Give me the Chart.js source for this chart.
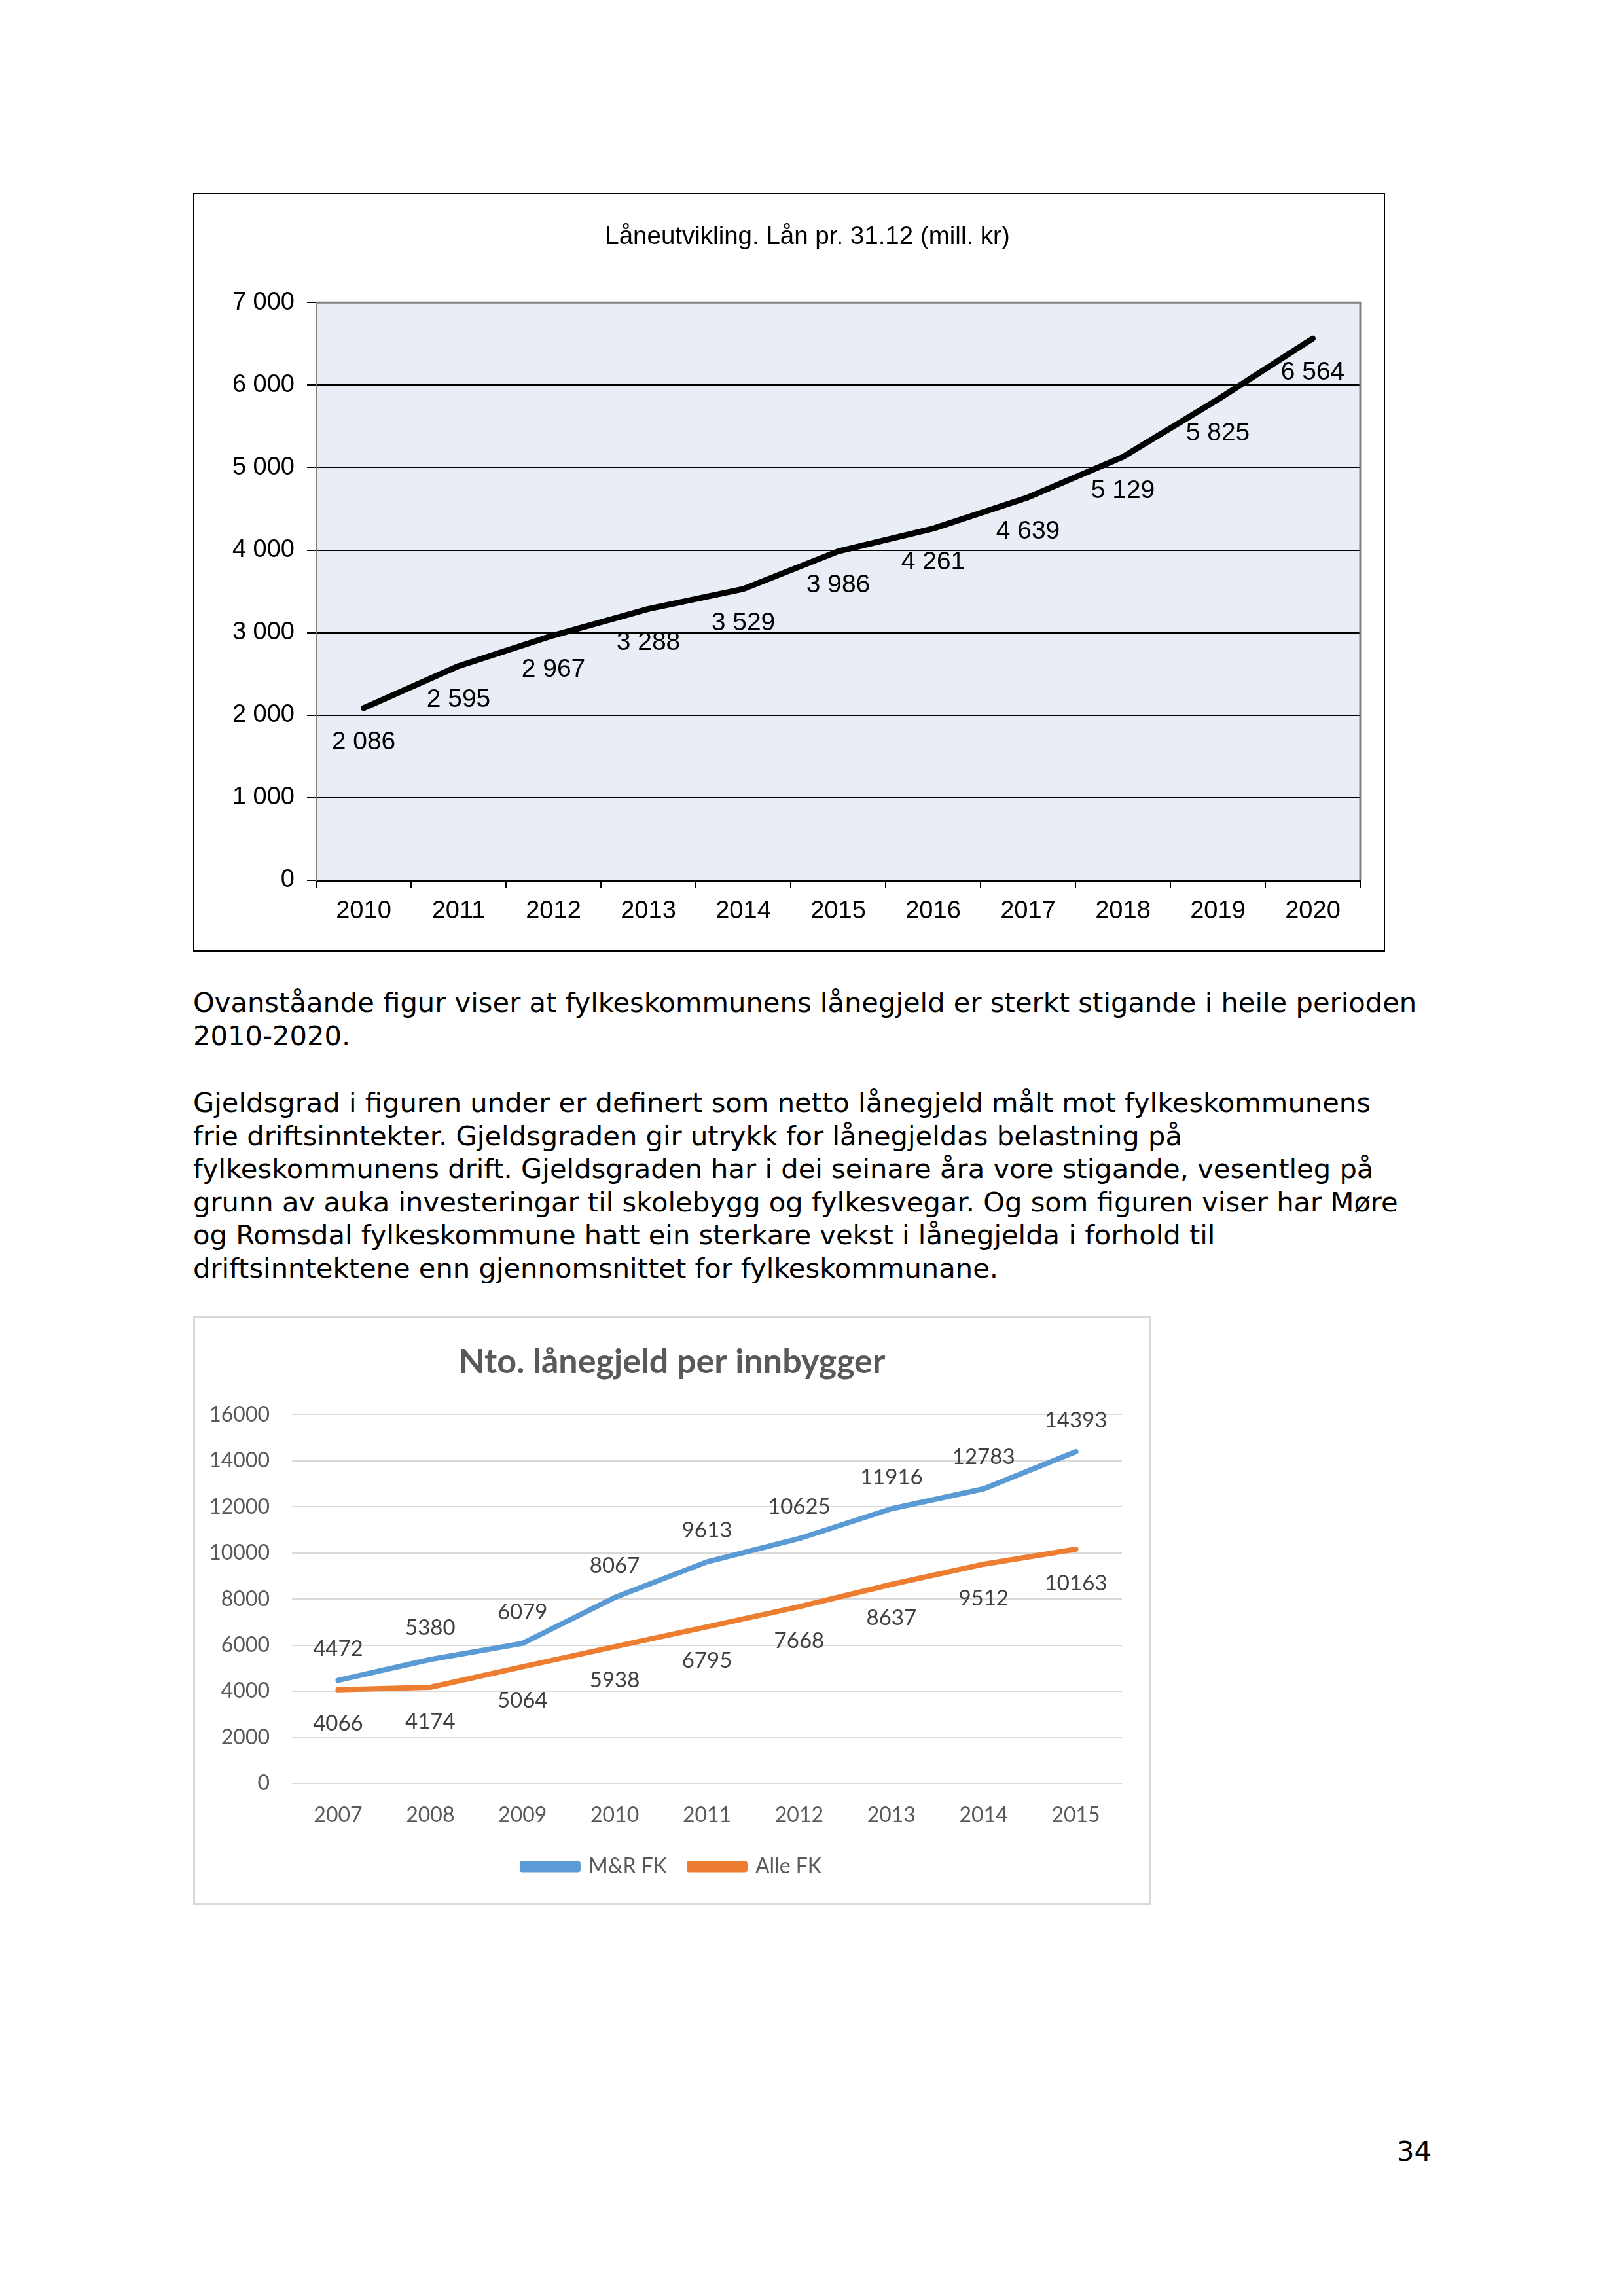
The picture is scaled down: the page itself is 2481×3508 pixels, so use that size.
<!DOCTYPE html>
<html>
<head>
<meta charset="utf-8">
<script src="https://cdn.jsdelivr.net/npm/chart.js@4.4.0/dist/chart.umd.min.js"></script>
<style>
  body { margin: 0; background: #fff; width: 2481px; height: 3508px; position: relative; }
  .box { position: absolute; box-sizing: border-box; }
  #box1 { left: 295px; top: 295px; width: 1821px; height: 1159px; border: 2px solid #000; }
  #box2 { left: 295px; top: 2011px; width: 1463px; height: 899px; border: 3px solid #d9d9d9; }
  .inner { position: relative; width: 100%; height: 100%; }
  .txt { position: absolute; left: 295px; font-family: "DejaVu Sans", Verdana, sans-serif;
         font-size: 41.67px; line-height: 50.6px; color: #000; white-space: nowrap; }
  #pnum { position: absolute; left: 2134px; top: 3262px; font-family: "DejaVu Sans", sans-serif; font-size: 41.67px; }
</style>
</head>
<body>
<div class="box" id="box1"><div class="inner"><canvas id="chart1"></canvas></div></div>

<div class="txt" style="top:1507px">Ovanståande figur viser at fylkeskommunens lånegjeld er sterkt stigande i heile perioden<br>2010-2020.</div>
<div class="txt" style="top:1660px">Gjeldsgrad i figuren under er definert som netto lånegjeld målt mot fylkeskommunens<br>frie driftsinntekter. Gjeldsgraden gir utrykk for lånegjeldas belastning på<br>fylkeskommunens drift. Gjeldsgraden har i dei seinare åra vore stigande, vesentleg på<br>grunn av auka investeringar til skolebygg og fylkesvegar. Og som figuren viser har Møre<br>og Romsdal fylkeskommune hatt ein sterkare vekst i lånegjelda i forhold til<br>driftsinntektene enn gjennomsnittet for fylkeskommunane.</div>

<div class="box" id="box2"><div class="inner"><canvas id="chart2"></canvas></div></div>

<div id="pnum">34</div>

<script>
// chart 1: Låneutvikling
const years1 = ['2010', '2011', '2012', '2013', '2014', '2015', '2016', '2017', '2018', '2019', '2020'];
const loans = [2086, 2595, 2967, 3288, 3529, 3986, 4261, 4639, 5129, 5825, 6564];

// chart 2: Nto. lånegjeld per innbygger
const years2 = ['2007', '2008', '2009', '2010', '2011', '2012', '2013', '2014', '2015'];
const mrFk = [4472, 5380, 6079, 8067, 9613, 10625, 11916, 12783, 14393];
const alleFk = [4066, 4174, 5064, 5938, 6795, 7668, 8637, 9512, 10163];

// thousands with a space, like "2 086"
function spaced(v) {
  return String(v).replace(/\B(?=(\d{3})+(?!\d))/g, ' ');
}

// draws the value next to each point, using the point positions from the chart
function makeLabels(offsets, font, color, format) {
  return {
    id: 'valueLabels',
    afterDatasetsDraw(chart) {
      const ctx = chart.ctx;
      ctx.save();
      ctx.font = font;
      ctx.fillStyle = color;
      ctx.textAlign = 'center';
      ctx.textBaseline = 'middle';
      chart.data.datasets.forEach((ds, i) => {
        const meta = chart.getDatasetMeta(i);
        meta.data.forEach((pt, j) => {
          ctx.fillText(format(ds.data[j]), pt.x, pt.y + offsets[i]);
        });
      });
      ctx.restore();
    }
  };
}

// light plot background plus the grey frame on top/right
const plotFrame = {
  id: 'plotFrame',
  beforeDraw(chart) {
    const a = chart.chartArea;
    const ctx = chart.ctx;
    ctx.save();
    ctx.fillStyle = '#e9eef6';
    ctx.fillRect(a.left, a.top, a.right - a.left, a.bottom - a.top);
    ctx.restore();
  },
  beforeDatasetsDraw(chart) {
    const a = chart.chartArea;
    const ctx = chart.ctx;
    ctx.save();
    ctx.strokeStyle = '#808080';
    ctx.lineWidth = 3;
    ctx.beginPath();
    ctx.moveTo(a.left, a.top);
    ctx.lineTo(a.right, a.top);
    ctx.lineTo(a.right, a.bottom);
    ctx.stroke();
    ctx.restore();
  }
};

// empty axis that only reserves room on the right
function spacer(w) {
  return {
    position: 'right',
    display: true,
    grid: { display: false },
    border: { display: false },
    ticks: { display: false },
    afterFit: s => { s.width = w; }
  };
}

const arial = 'Liberation Sans, Arial, sans-serif';

new Chart(document.getElementById('chart1'), {
  type: 'line',
  data: {
    labels: years1,
    datasets: [{
      label: 'Lån',
      data: loans,
      borderColor: '#000',
      borderWidth: 9,
      borderCapStyle: 'round',
      borderJoinStyle: 'round',
      pointRadius: 0,
      tension: 0
    }]
  },
  plugins: [plotFrame, makeLabels([52], '39px ' + arial, '#000', spaced)],
  options: {
    responsive: true,
    maintainAspectRatio: false,
    animation: false,
    layout: { padding: { left: 56, right: 0, top: 0, bottom: 0 } },
    plugins: {
      legend: { display: false },
      tooltip: { enabled: false },
      title: {
        display: true,
        text: 'Låneutvikling. Lån pr. 31.12 (mill. kr)',
        color: '#000',
        font: { family: arial, size: 38.5, weight: 'normal' },
        padding: { top: 42, bottom: 77 }
      }
    },
    scales: {
      x: {
        offset: true,
        grid: {
          offset: true,
          drawOnChartArea: false,
          drawTicks: true,
          tickLength: 12,
          color: '#000',
          lineWidth: 2
        },
        border: { color: '#000', width: 3 },
        ticks: { color: '#000', font: { family: arial, size: 38 }, padding: 13, maxRotation: 0 },
        afterFit: s => { s.height = 107; }
      },
      y: {
        min: 0,
        max: 7000,
        grid: { color: '#000', lineWidth: 2, drawTicks: true, tickLength: 14 },
        border: { color: '#808080', width: 3 },
        ticks: {
          stepSize: 1000,
          color: '#000',
          font: { family: arial, size: 38 },
          padding: 19,
          callback: v => spaced(v)
        },
        afterFit: s => { s.width = 130; }
      },
      yr: spacer(36)
    }
  }
});

const lato = 'Lato, Calibri, sans-serif';

new Chart(document.getElementById('chart2'), {
  type: 'line',
  data: {
    labels: years2,
    datasets: [
      {
        label: 'M&R FK',
        data: mrFk,
        borderColor: '#5b9bd5',
        backgroundColor: '#5b9bd5',
        borderWidth: 8,
        borderCapStyle: 'round',
        borderJoinStyle: 'round',
        pointRadius: 0,
        tension: 0
      },
      {
        label: 'Alle FK',
        data: alleFk,
        borderColor: '#ed7d31',
        backgroundColor: '#ed7d31',
        borderWidth: 8,
        borderCapStyle: 'round',
        borderJoinStyle: 'round',
        pointRadius: 0,
        tension: 0
      }
    ]
  },
  plugins: [makeLabels([-48, 52], '33px ' + lato, '#404040', v => String(v))],
  options: {
    responsive: true,
    maintainAspectRatio: false,
    animation: false,
    layout: { padding: { left: 20, right: 20, top: 0, bottom: 29 } },
    plugins: {
      tooltip: { enabled: false },
      title: {
        display: true,
        text: 'Nto. lånegjeld per innbygger',
        color: '#595959',
        font: { family: lato, size: 52, weight: 'bold' },
        padding: { top: 36, bottom: 49 }
      },
      legend: {
        position: 'bottom',
        labels: {
          boxWidth: 85,
          boxHeight: 9,
          padding: 34,
          color: '#595959',
          font: { family: lato, size: 32 }
        }
      }
    },
    scales: {
      x: {
        offset: true,
        grid: { display: false },
        border: { display: false },
        ticks: { color: '#595959', font: { family: lato, size: 32 }, padding: 21, maxRotation: 0 },
        afterFit: s => { s.height = 77; }
      },
      y: {
        min: 0,
        max: 16000,
        grid: { color: '#d9d9d9', lineWidth: 2, drawTicks: false },
        border: { display: false },
        ticks: {
          stepSize: 2000,
          color: '#595959',
          font: { family: lato, size: 32 },
          padding: 34,
          callback: v => String(v)
        },
        afterFit: s => { s.width = 128; }
      },
      yr: spacer(21)
    }
  }
});
</script>
</body>
</html>
